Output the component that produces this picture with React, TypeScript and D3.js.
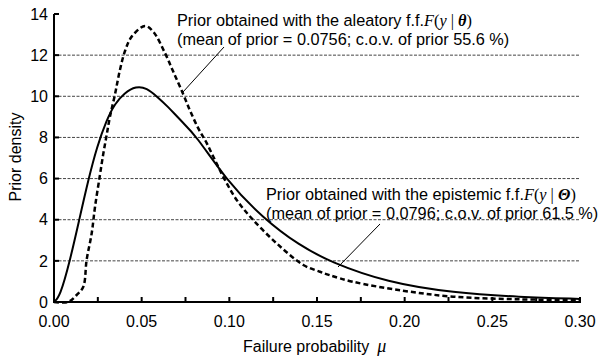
import React from "react";
import * as d3 from "d3";

const yTicks = [0, 2, 4, 6, 8, 10, 12, 14];
const xMajorTicks = [0, 0.05, 0.1, 0.15, 0.2, 0.25, 0.3];
const xMinorTicks = [0, 0.025, 0.05, 0.075, 0.1, 0.125, 0.15, 0.175, 0.2, 0.225, 0.25, 0.275, 0.3];
const gridValues = [2, 4, 6, 8, 10, 12];

// Epistemic prior (solid)
const epiMu = [0, 0.0034, 0.0091, 0.0144, 0.0196, 0.0245, 0.03, 0.0348, 0.04, 0.0468, 0.053, 0.0586, 0.065, 0.0719, 0.081, 0.0975, 0.1194, 0.14, 0.1574, 0.19, 0.2276, 0.2658, 0.3];
const epiDensity = [0, 0.26, 2.0, 4.0, 5.95, 7.55, 8.85, 9.65, 10.15, 10.5, 10.4, 10.0, 9.5, 8.85, 8.1, 6.0, 4.05, 2.75, 1.95, 0.95, 0.45, 0.24, 0.15];

// Aleatory prior (dashed)
const aleMu = [0, 0.008, 0.0129, 0.0167, 0.0186, 0.0215, 0.0234, 0.0262, 0.0281, 0.03, 0.0319, 0.0348, 0.0376, 0.0405, 0.0443, 0.0519, 0.0566, 0.0633, 0.068, 0.0737, 0.0776, 0.0823, 0.0871, 0.0918, 0.0975, 0.1042, 0.1127, 0.127, 0.1422, 0.1517, 0.1574, 0.1707, 0.199, 0.2276, 0.2658, 0.3];
const aleDensity = [0, 0, 0.34, 0.74, 2.04, 3.34, 4.63, 6.17, 7.2, 8.1, 9.0, 10.1, 11.28, 12.2, 12.9, 13.42, 13.14, 12.1, 11.2, 10.1, 9.3, 8.44, 7.72, 6.9, 5.93, 4.96, 4.07, 2.85, 1.8, 1.47, 1.3, 0.98, 0.55, 0.26, 0.13, 0.1];

const W = 605;
const H = 363;
const X0 = 54;
const X1 = 580;
const Y0 = 302;
const Y1 = 14;

export default function App() {
  const x = d3.scaleLinear().domain([0, 0.3]).range([X0, X1]);
  const y = d3.scaleLinear().domain([0, 14]).range([Y0, Y1]);

  const epiLine = d3
    .line<[number, number]>()
    .x((d) => x(d[0]))
    .y((d) => y(d[1]))
    .curve(d3.curveBasis);
  const aleLine = d3
    .line<[number, number]>()
    .x((d) => x(d[0]))
    .y((d) => y(d[1]))
    .curve(d3.curveCatmullRom.alpha(0.5));

  const epiPath = epiLine(epiMu.map((m, i) => [m, epiDensity[i]]) as [number, number][]) || "";
  const alePath = aleLine(aleMu.map((m, i) => [m, aleDensity[i]]) as [number, number][]) || "";

  const font = "'Liberation Sans', Arial, Helvetica, sans-serif";
  const serif = "'Liberation Serif', 'Times New Roman', serif";
  const fs = 16;
  const lfs = 16.3;

  return (
    <svg
      width={W}
      height={H}
      style={{ position: "absolute", left: 0, top: 0, background: "#fff" }}
      fontFamily={font}
    >
      <rect x={0} y={0} width={W} height={H} fill="#fff" />
      {/* grid */}
      {gridValues.map((v) => (
        <line
          key={"g" + v}
          x1={X0}
          x2={X1}
          y1={y(v)}
          y2={y(v)}
          stroke="#444"
          strokeWidth={1}
          strokeDasharray="3,1.5"
        />
      ))}
      {/* curves */}
      <path d={epiPath} fill="none" stroke="#000" strokeWidth={2} />
      <path d={alePath} fill="none" stroke="#000" strokeWidth={2.5} strokeDasharray="5,3" />

      {/* axes */}
      <line x1={X0} x2={X0} y1={Y1} y2={Y0 + 1} stroke="#000" strokeWidth={2} />
      <line x1={X0 - 1} x2={X1 + 1} y1={Y0} y2={Y0} stroke="#000" strokeWidth={2} />
      {yTicks.map((v) => (
        <g key={"y" + v}>
          <line x1={X0} x2={X0 + 5} y1={y(v)} y2={y(v)} stroke="#000" strokeWidth={2} />
          <text x={X0 - 6} y={y(v)} dy="0.36em" textAnchor="end" fontSize={fs} fill="#000">
            {v}
          </text>
        </g>
      ))}
      {xMinorTicks.map((v) => (
        <line key={"xm" + v} x1={x(v)} x2={x(v)} y1={Y0} y2={Y0 - 5} stroke="#000" strokeWidth={2} />
      ))}
      {xMajorTicks.map((v) => (
        <text key={"xl" + v} x={x(v)} y={327} textAnchor="middle" fontSize={fs} fill="#000">
          {v.toFixed(2)}
        </text>
      ))}

      {/* axis titles */}
      <text
        transform={`translate(21,157) rotate(-90)`}
        textAnchor="middle"
        fontSize={fs}
        fill="#000"
      >
        Prior density
      </text>
      <text x={243} y={352} fontSize={fs} fill="#000">
        Failure probability
        <tspan dx={8} fontFamily={serif} fontStyle="italic" fontSize={18}>
          μ
        </tspan>
      </text>

      {/* annotations */}
      <line x1={224} y1={47} x2={183} y2={92} stroke="#000" strokeWidth={1} />
      <text x={177} y={26} fontSize={lfs} fill="#000">
        Prior obtained with the aleatory f.f.
        <tspan fontFamily={serif} fontStyle="italic">F</tspan>
        <tspan fontFamily={serif}>(</tspan>
        <tspan fontFamily={serif} fontStyle="italic">y</tspan>
        <tspan fontFamily={serif}> | </tspan>
        <tspan fontFamily={serif} fontStyle="italic" fontWeight="bold">θ</tspan>
        <tspan fontFamily={serif}>)</tspan>
      </text>
      <text x={177} y={45} fontSize={lfs} fill="#000">
        (mean of prior = 0.0756; c.o.v. of prior 55.6 %)
      </text>

      <line x1={380} y1={224} x2={338} y2={267} stroke="#000" strokeWidth={1} />
      <text x={266} y={200} fontSize={lfs} fill="#000">
        Prior obtained with the epistemic f.f.
        <tspan fontFamily={serif} fontStyle="italic">F</tspan>
        <tspan fontFamily={serif}>(</tspan>
        <tspan fontFamily={serif} fontStyle="italic">y</tspan>
        <tspan fontFamily={serif}> | </tspan>
        <tspan fontFamily={serif} fontStyle="italic" fontWeight="bold">Θ</tspan>
        <tspan fontFamily={serif}>)</tspan>
      </text>
      <text x={266} y={219} fontSize={lfs} fill="#000">
        (mean of prior = 0.0796; c.o.v. of prior 61.5 %)
      </text>
    </svg>
  );
}
